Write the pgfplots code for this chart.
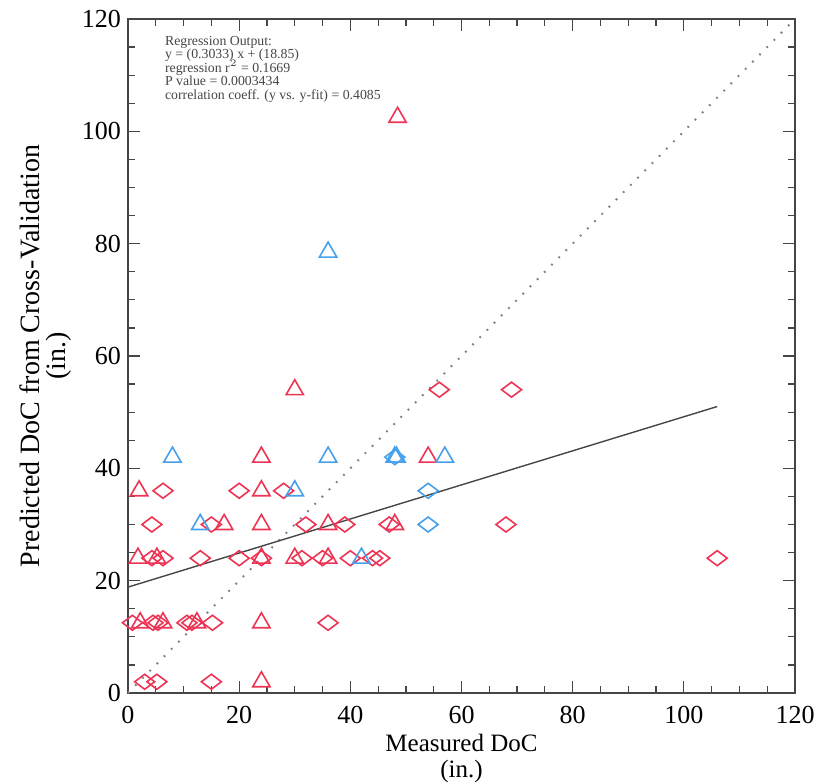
\documentclass[border=0pt]{standalone}
\usepackage{pgfplots}
\pgfplotsset{compat=1.18}
\usepackage{fontspec}
\setmainfont{Liberation Serif}

\definecolor{dred}{RGB}{238,52,84}
\definecolor{dblue}{RGB}{70,160,235}
\definecolor{axgray}{RGB}{70,70,70}
\tikzset{regtext/.style={anchor=base west, inner sep=0pt, text=axgray,
    font=\fontsize{6.9}{6.9}\selectfont}}

\begin{document}
\begin{tikzpicture}
\begin{axis}[
  scale only axis,
  width=333.5pt, height=337pt,
  xmin=0, xmax=120, ymin=0, ymax=120,
  xtick={0,20,...,120}, ytick={0,20,...,120},
  minor x tick num=3, minor y tick num=3,
  tick align=inside,
  major tick length=6pt, minor tick length=3.5pt,
  axis line style={axgray, line width=0.8pt},
  every tick/.style={axgray, line width=0.6pt},
  tick label style={font=\fontsize{13}{15}\selectfont},
  /pgf/number format/assume math mode=true,
  xticklabel style={yshift=-3pt},
  xlabel={Measured DoC\\(in.)},
  xlabel style={align=center, font=\fontsize{12.5}{13}\selectfont,
    at={(rel axis cs:0.5,0)}, anchor=north, yshift=-17pt},
  ylabel={Predicted DoC from Cross-Validation\\(in.)},
  ylabel style={align=center, font=\fontsize{14}{13}\selectfont,
    at={(rel axis cs:0,0.5)}, anchor=south, yshift=24.5pt},
  clip=false,
]
% 1:1 line
\addplot[gray, line width=1pt, dash pattern=on 0.9pt off 4.2pt] coordinates {(0,0) (120,120)};
% regression fit y = 0.3033x + 18.85
\addplot[axgray, line width=0.7pt] coordinates {(0,18.85) (106,51.0)};

% red diamonds
\addplot[only marks, mark=diamond, mark size=5pt, color=dred,
  mark options={rotate=90, line width=0.8pt}] coordinates {
  (0.8,12.5) (4.5,12.5) (5.4,12.5) (10.6,12.5) (11.5,12.5) (15.2,12.5) (36,12.5)
  (3,2) (5.2,2) (15,2)
  (4.3,24) (6.3,24) (13,24) (20,24) (24,24) (31.3,24) (35,24) (40,24) (44,24) (45.3,24) (106,24)
  (4.3,30) (15,30) (32,30) (39,30) (47,30) (68,30)
  (6.3,36) (20,36) (28,36)
  (56,54) (69,54)
};
% red triangles
\addplot[only marks, mark=triangle, mark size=5pt, color=dred,
  mark options={line width=0.8pt}] coordinates {
  (2.2,12.5) (6.3,12.5) (12.4,12.5) (24,12.5)
  (24,2)
  (1.8,24) (5.2,24) (24,24) (30,24) (36,24)
  (17.3,30) (24,30) (36,30) (48,30)
  (2,36) (24,36)
  (24,42) (54,42)
  (30,54)
  (48.5,102.5)
};
% blue diamonds
\addplot[only marks, mark=diamond, mark size=5pt, color=dblue,
  mark options={rotate=90, line width=0.8pt}] coordinates {
  (54,30) (54,36) (48,42)
};
% blue triangles
\addplot[only marks, mark=triangle, mark size=5pt, color=dblue,
  mark options={line width=0.8pt}] coordinates {
  (42,24) (13,30) (30,36) (8,42) (36,42) (48,42) (48.3,42) (57,42) (36,78.5)
};

\node[regtext] at (rel axis cs:0.055,0.9610) {Regression Output:};
\node[regtext] at (rel axis cs:0.055,0.9410) {y = (0.3033) x + (18.85)};
\node[regtext] at (rel axis cs:0.055,0.9210) {regression r$^{2}$ = 0.1669};
\node[regtext] at (rel axis cs:0.055,0.9010) {P value = 0.0003434};
\node[regtext] at (rel axis cs:0.055,0.8810) {correlation coeff. (y vs. y-fit) = 0.4085};

\coordinate (sw) at (rel axis cs:0,0);
\coordinate (ne) at (rel axis cs:1,1);
\end{axis}
\pgfresetboundingbox
\path[use as bounding box] ([xshift=-64pt,yshift=-45.5pt]sw) rectangle ([xshift=12pt,yshift=9.5pt]ne);
\end{tikzpicture}
\end{document}
